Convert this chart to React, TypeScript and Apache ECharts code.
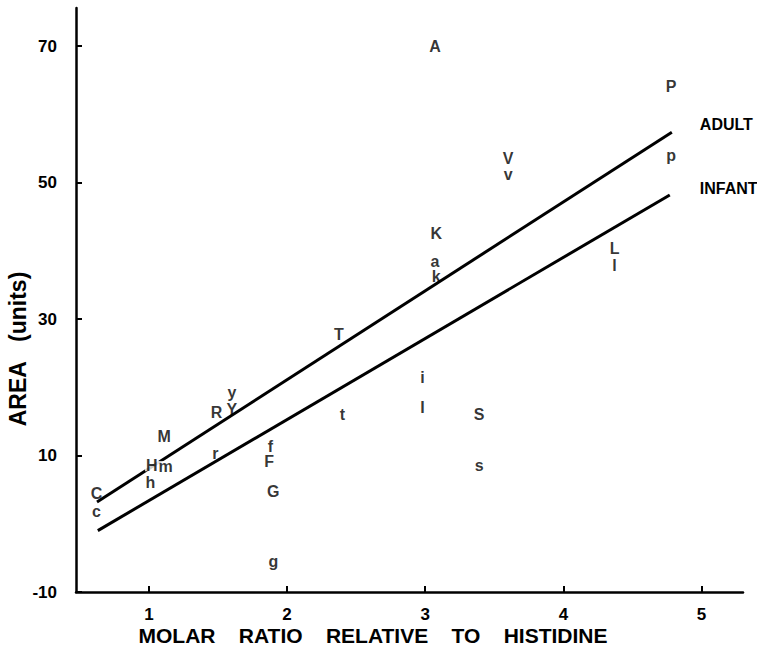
import React, { useEffect, useRef } from "react";
import * as echarts from "echarts";

// Point letters and their coordinates (molar ratio, area)
const letters = ["A", "P", "p", "V", "v", "K", "a", "k", "L", "l", "T", "i", "I", "S", "s", "t", "y", "R", "Y", "M", "H", "m", "h", "r", "f", "F", "G", "g", "C", "c"];
const ratios = [3.07, 4.78, 4.78, 3.6, 3.6, 3.08, 3.07, 3.08, 4.37, 4.37, 2.375, 2.98, 2.98, 3.39, 3.39, 2.4, 1.6, 1.49, 1.6, 1.11, 1.02, 1.12, 1.01, 1.48, 1.88, 1.87, 1.9, 1.9, 0.62, 0.62];
const areas = [70, 64.1, 54.0, 53.6, 51.2, 42.5, 38.5, 36.2, 40.3, 37.8, 27.7, 21.4, 17.0, 16.0, 8.5, 16.0, 19.3, 16.3, 16.8, 12.8, 8.5, 8.4, 6.0, 10.3, 11.4, 9.1, 4.8, -5.5, 4.4, 1.8];

// Regression lines
const adultX = [0.624, 4.785];
const adultY = [3.2, 57.4];
const infantX = [0.63, 4.77];
const infantY = [-1.0, 48.2];

const xTicks = [1, 2, 3, 4, 5];
const yTicks = [-10, 10, 30, 50, 70];

const FONT = "'Liberation Sans', Arial, sans-serif";

export default function App() {
  const ref = useRef<HTMLDivElement>(null);
  useEffect(() => {
    document.body.style.margin = "0";
    const chart = echarts.init(ref.current!, null, { renderer: "svg" });
    const scatterData = letters.map((l, i) => {
      const item: any = { value: [ratios[i], areas[i], l] };
      if (l === "H" || l === "m") {
        item.label = { backgroundColor: "#fff", padding: [0, 1] };
      }
      return item;
    });
    chart.setOption({
      animation: false,
      backgroundColor: "#fff",
      grid: { left: 76, right: 14, top: 8, bottom: 66 },
      xAxis: {
        type: "value",
        min: 0.472,
        max: 5.3,
        axisLine: { show: true, onZero: false, lineStyle: { color: "#000", width: 2.5 } },
        axisTick: { show: true, inside: true, length: 6, customValues: xTicks, lineStyle: { color: "#000", width: 2 } },
        axisLabel: { customValues: xTicks, color: "#000", fontSize: 17, fontWeight: "bold", fontFamily: FONT, margin: 14 },
        splitLine: { show: false },
      },
      yAxis: {
        type: "value",
        min: -10,
        max: 75.6,
        axisLine: { show: true, onZero: false, lineStyle: { color: "#000", width: 2.5 } },
        axisTick: { show: true, inside: true, length: 6, customValues: yTicks, lineStyle: { color: "#000", width: 2 } },
        axisLabel: { customValues: yTicks, color: "#000", fontSize: 17, fontWeight: "bold", fontFamily: FONT, margin: 19 },
        splitLine: { show: false },
      },
      series: [
        {
          type: "line",
          data: adultX.map((x, i) => [x, adultY[i]]),
          symbol: "none",
          lineStyle: { color: "#000", width: 3 },
          endLabel: { show: true, formatter: "ADULT", color: "#000", fontSize: 16, fontWeight: "bold", fontFamily: FONT, offset: [20, -8] },
          z: 2,
        },
        {
          type: "line",
          data: infantX.map((x, i) => [x, infantY[i]]),
          symbol: "none",
          lineStyle: { color: "#000", width: 3 },
          endLabel: { show: true, formatter: "INFANT", color: "#000", fontSize: 16, fontWeight: "bold", fontFamily: FONT, offset: [22, -6] },
          z: 2,
        },
        {
          type: "scatter",
          data: scatterData,
          symbolSize: 1,
          itemStyle: { color: "rgba(0,0,0,0)" },
          label: {
            show: true,
            position: "inside",
            formatter: (p: any) => p.value[2],
            color: "#000",
            fontSize: 16,
            lineHeight: 11,
            fontWeight: "bold",
            fontFamily: FONT,
          },
          emphasis: { disabled: true },
          z: 5,
        },
      ],
      graphic: [
        {
          type: "text",
          x: 373,
          y: 635,
          style: {
            text: "MOLAR\u00a0\u00a0\u00a0\u00a0RATIO\u00a0\u00a0\u00a0\u00a0RELATIVE\u00a0\u00a0\u00a0\u00a0TO\u00a0\u00a0\u00a0\u00a0HISTIDINE",
            align: "center",
            verticalAlign: "middle",
            fill: "#000",
            font: `bold 21px ${FONT}`,
          },
        },
        {
          type: "text",
          x: 18,
          y: 349,
          rotation: Math.PI / 2,
          style: {
            text: "AREA\u00a0\u00a0\u00a0(units)",
            align: "center",
            verticalAlign: "middle",
            fill: "#000",
            font: `bold 23px ${FONT}`,
          },
        },
      ],
    });
    return () => chart.dispose();
  }, []);
  return <div ref={ref} style={{ width: 757, height: 658 }} />;
}
